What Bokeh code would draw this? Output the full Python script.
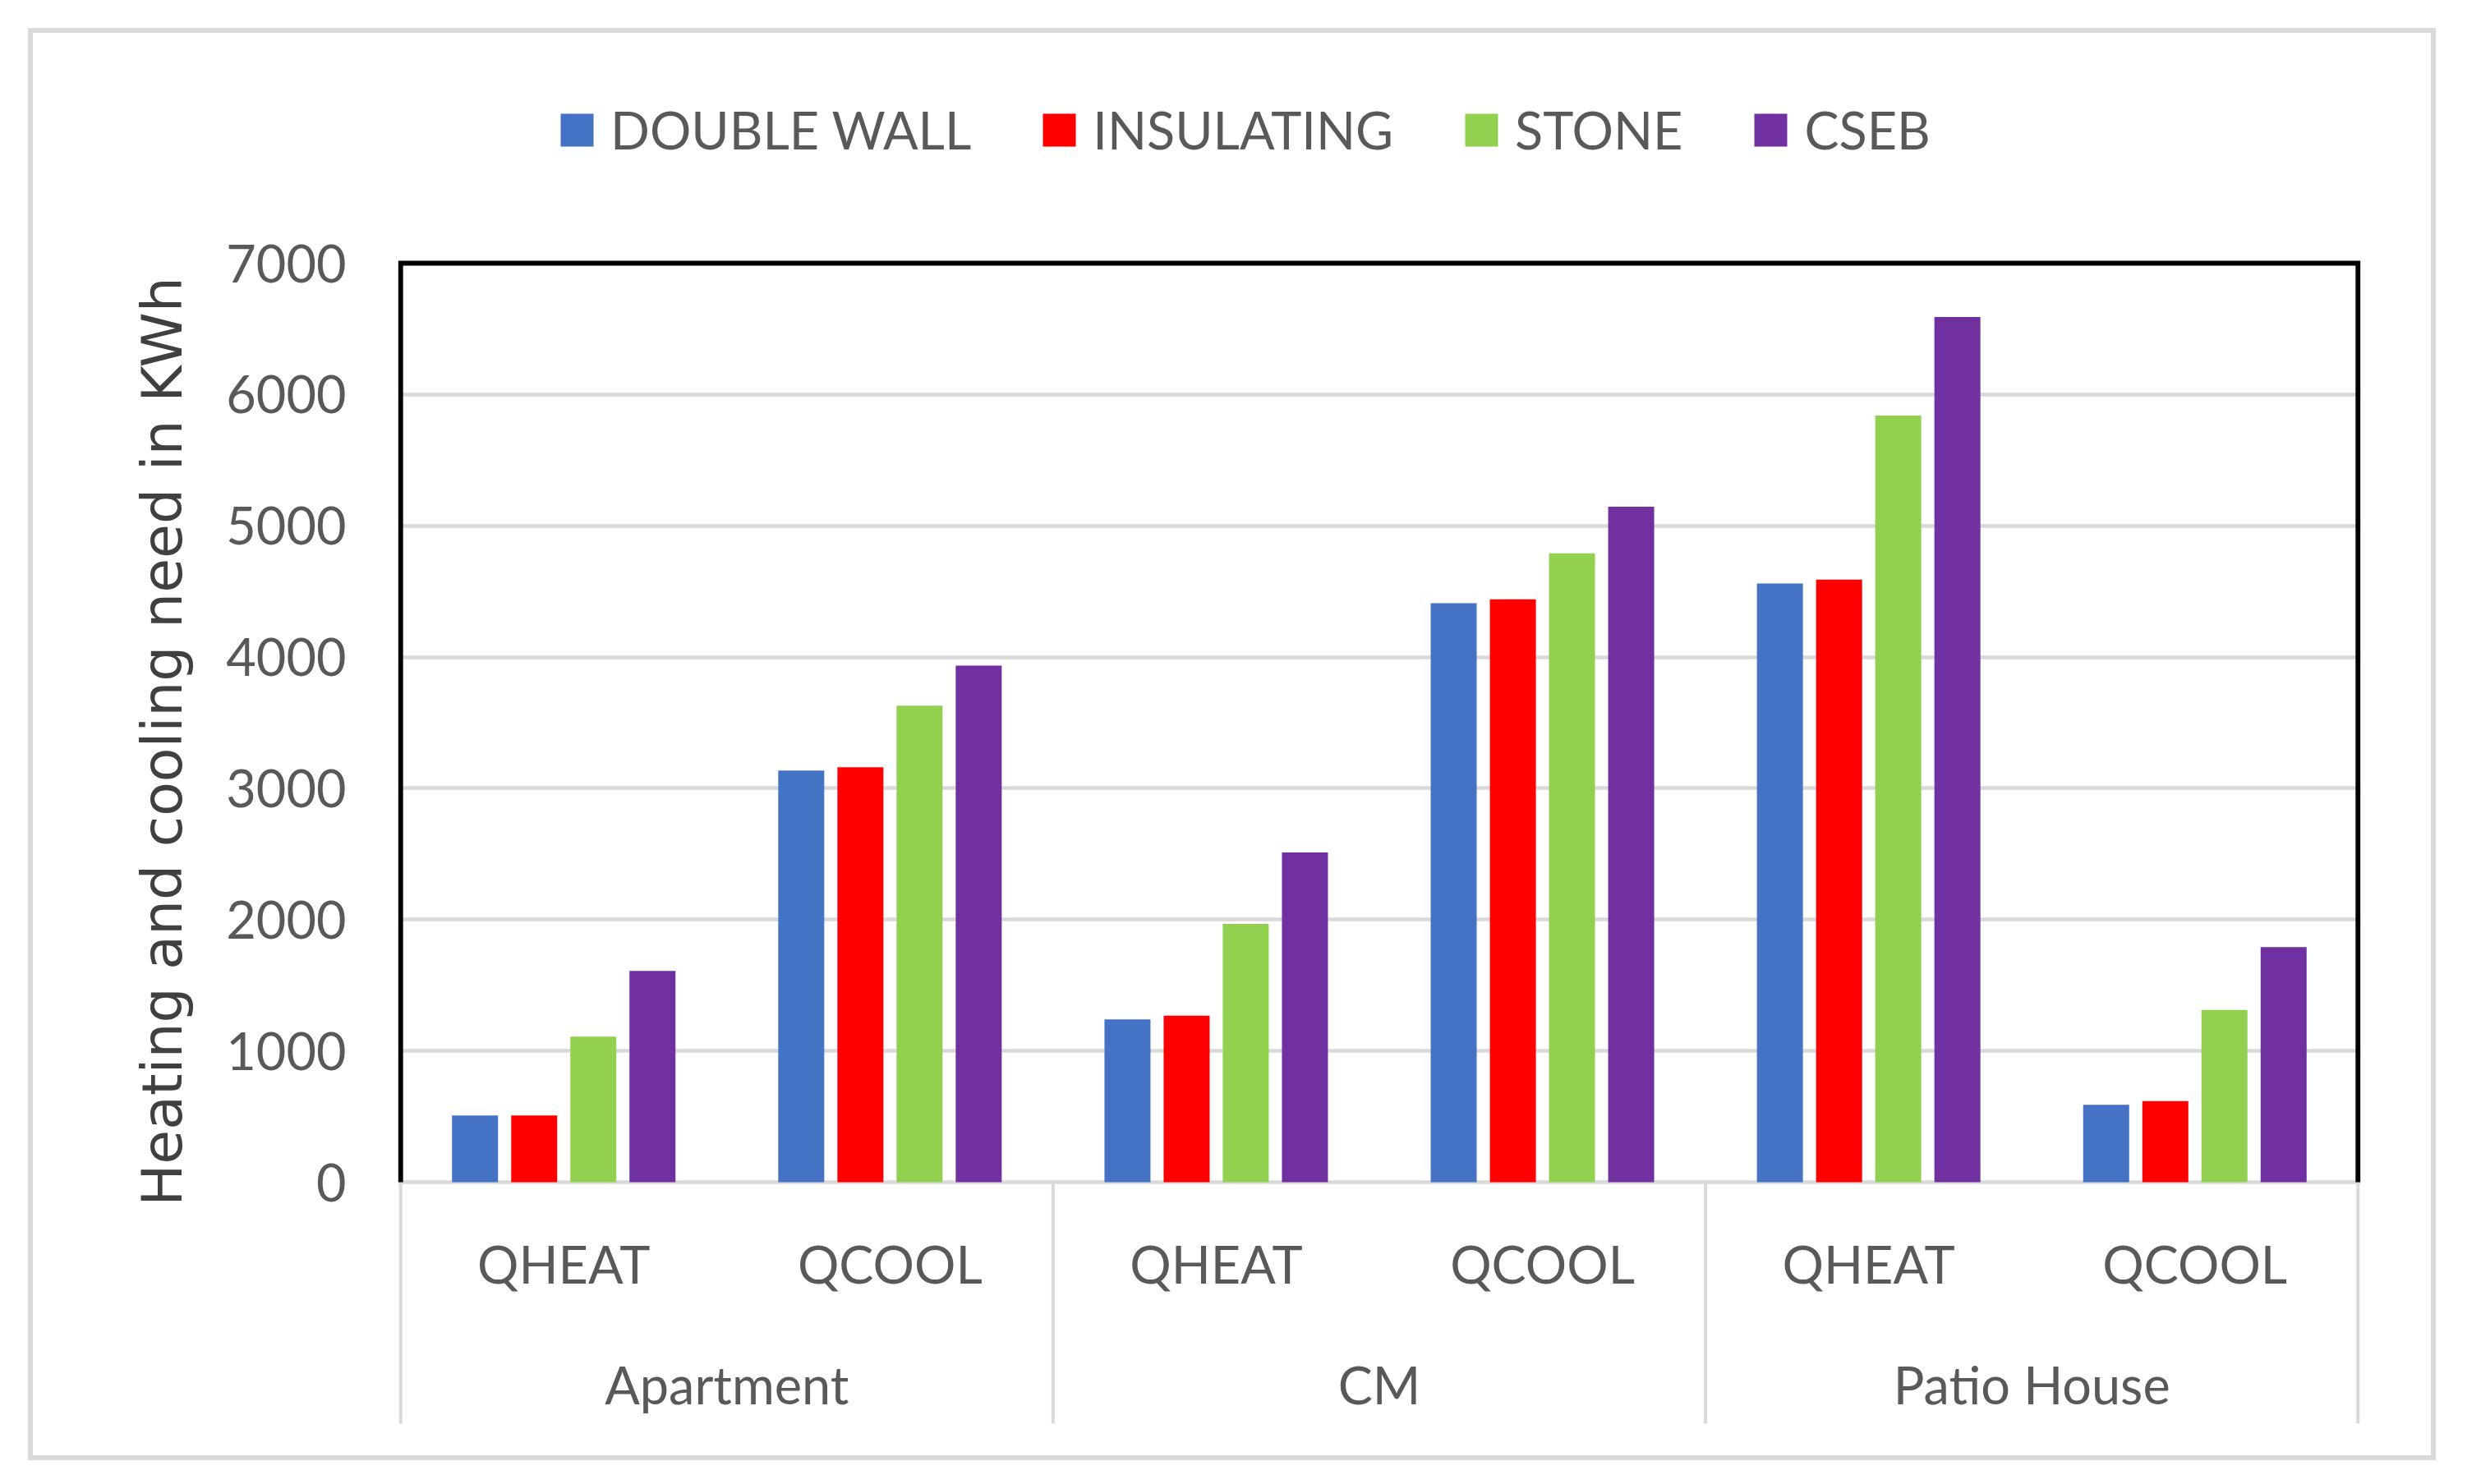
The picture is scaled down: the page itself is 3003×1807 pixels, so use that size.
from bokeh.plotting import figure
from bokeh.models import (FactorRange, Range1d, FixedTicker, Legend, LegendItem,
                          ColumnDataSource)
from bokeh.transform import dodge
from bokeh.core.properties import value
from bokeh.embed import file_html
from bokeh.resources import INLINE

# ---------------- data ----------------
groups = ["Apartment", "CM", "Patio House"]
subs = ["QHEAT", "QCOOL"]
series = ["DOUBLE WALL", "INSULATING", "STONE", "CSEB"]
colors = ["#4472C4", "#FF0000", "#92D050", "#7030A0"]

double_wall = [508, 3135, 1240, 4410, 4560, 590]
insulating = [508, 3160, 1268, 4440, 4590, 618]
stone = [1109, 3630, 1968, 4790, 5840, 1312]
cseb = [1609, 3935, 2512, 5145, 6590, 1790]

y_ticks = [0, 1000, 2000, 3000, 4000, 5000, 6000, 7000]
y_title = "Heating and cooling need in KWh"

# ---------------- layout constants (pixels) ----------------
FRAME_W, FRAME_H = 2389, 1685
PX_PER_UNIT = 1119 / 7000.0          # vertical pixels per kWh
TOP_EXTRA_PX = 260                    # frame space above 7000
BOTTOM_EXTRA_PX = 306                 # frame space below 0
SUB_LABEL_PX = 99                     # sub-label centre below 0
GROUP_LABEL_PX = 246                  # group-label centre below 0
SEP_PX = 294                          # separator length below 0

factors = [(g, s) for g in groups for s in subs]
n = len(factors)

x_range = FactorRange(factors=factors, factor_padding=0, group_padding=0,
                      subgroup_padding=0, range_padding=0.008,
                      range_padding_units="absolute")
y_top = y_ticks[-1] + TOP_EXTRA_PX / PX_PER_UNIT
y_bot = -BOTTOM_EXTRA_PX / PX_PER_UNIT
y_range = Range1d(y_bot, y_top)

p = figure(x_range=x_range, y_range=y_range,
           frame_width=FRAME_W, frame_height=FRAME_H,
           min_border_left=450, min_border_right=92,
           min_border_top=26, min_border_bottom=33,
           x_axis_location=None, y_axis_location="left",
           output_backend="svg", toolbar_location=None,
           border_fill_color=None, background_fill_color=None,
           outline_line_color=None)
p.margin = (34, 0, 0, 34)
p.styles = {"outline": "6px solid #D9D9D9", "outline-offset": "-6px"}

# grid
p.xgrid.visible = False
p.ygrid.ticker = FixedTicker(ticks=y_ticks)
p.ygrid.grid_line_color = "#D9D9D9"
p.ygrid.grid_line_width = 4.5

# y axis
ya = p.yaxis[0]
ya.ticker = FixedTicker(ticks=y_ticks)
ya.axis_line_color = None
ya.major_tick_line_color = None
ya.minor_tick_line_color = None
ya.major_tick_out = 0
ya.major_tick_in = 0
ya.major_label_standoff = 63
ya.major_label_text_font = "Lato"
ya.major_label_text_font_size = "63px"
ya.major_label_text_color = "#595959"
ya.axis_label = y_title
ya.axis_label_text_font = "DejaVu Sans"
ya.axis_label_text_font_size = "68px"
ya.axis_label_text_font_style = "normal"
ya.axis_label_text_color = "#404040"
ya.axis_label_standoff = 35

# bars
src = ColumnDataSource(dict(x=factors, dw=double_wall, ins=insulating,
                            st=stone, cs=cseb))
cols = ["dw", "ins", "st", "cs"]
offsets = [-0.272, -0.0906, 0.0906, 0.272]
items = []
for name, col, c, off in zip(series, cols, colors, offsets):
    r = p.vbar(x=dodge("x", off, range=p.x_range), top=col, width=0.141,
               source=src, fill_color=c, line_color=None)
    items.append(LegendItem(label=name, renderers=[r]))

# category separators
edges = [i * len(subs) for i in range(len(groups) + 1)]
p.segment(x0=edges, y0=[0] * len(edges), x1=edges,
          y1=[-SEP_PX / PX_PER_UNIT] * len(edges),
          line_color="#D9D9D9", line_width=4)

# black frame (left, top, right)
p.line(x=[0, 0, n, n], y=[0, y_ticks[-1], y_ticks[-1], 0],
       line_color="black", line_width=6, line_join="miter")

# category labels
p.text(x=factors, y=[-SUB_LABEL_PX / PX_PER_UNIT] * n,
       text=[s for _, s in factors], text_align="center",
       text_baseline="middle", text_font=value("Lato"),
       text_font_size="63px", text_color="#595959")
p.text(x=groups, y=[-GROUP_LABEL_PX / PX_PER_UNIT] * len(groups),
       text=groups, text_align="center", text_baseline="middle",
       text_font=value("Lato"), text_font_size="63px", text_color="#595959")

legend = Legend(items=items, orientation="horizontal", location=(193, 1550),
                padding=0, margin=0, border_line_color=None,
                background_fill_alpha=0, glyph_width=50, glyph_height=50,
                label_standoff=16, spacing=82, label_text_font="Lato",
                label_text_font_size="63px", label_text_color="#595959")
p.add_layout(legend)

open("out.html", "w").write(file_html(p, INLINE))
